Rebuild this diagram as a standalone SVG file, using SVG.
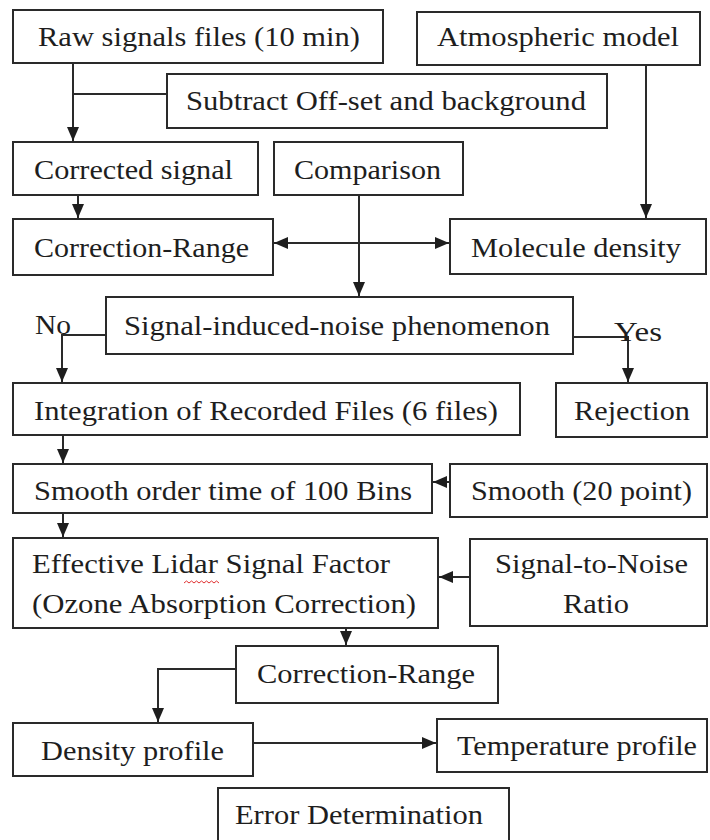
<svg xmlns="http://www.w3.org/2000/svg" width="710" height="840" viewBox="0 0 710 840">
<style>
  .box { fill: #ffffff; stroke: #2a2a2a; stroke-width: 2; }
  text { font-family: "Liberation Serif", "DejaVu Serif", serif; font-size: 28px; fill: #1e1e1e; }
  .ts { text-anchor: start; }
  .c { fill: none; stroke: #2a2a2a; stroke-width: 2; }
  .a { marker-end: url(#ah); }
</style>
<defs>
  <marker id="ah" viewBox="0 0 14 12" refX="14" refY="6" markerWidth="14" markerHeight="12" markerUnits="userSpaceOnUse" orient="auto-start-reverse">
    <path d="M0,0 L14,6 L0,12 z" fill="#1e1e1e"/>
  </marker>
</defs>
<rect width="710" height="840" fill="#ffffff"/>

<g id="connectors">
  <path class="c a" d="M73,63 V141"/>
  <path class="c" d="M167,94 H73"/>
  <path class="c a" d="M646,65 V218"/>
  <path class="c a" d="M78,195 V218"/>
  <path class="c a" d="M274,243 H449" marker-start="url(#ah)"/>
  <path class="c a" d="M359,195 V296"/>
  <path class="c a" d="M105,335 H62 V382"/>
  <path class="c a" d="M574,337 H628 V382"/>
  <path class="c a" d="M63,435 V463"/>
  <path class="c a" d="M450,482 H433"/>
  <path class="c a" d="M63,513 V537"/>
  <path class="c a" d="M470,577 H439"/>
  <path class="c a" d="M346,628 V645"/>
  <path class="c a" d="M236,669 H158 V722"/>
  <path class="c a" d="M253,743 H436"/>
</g>

<g id="raw">
  <rect class="box" x="13" y="10" width="370" height="53"/>
  <text x="38" y="46" textLength="322" lengthAdjust="spacingAndGlyphs">Raw signals files (10 min)</text>
</g>
<g id="atmospheric">
  <rect class="box" x="417" y="12" width="283" height="53"/>
  <text x="437" y="46" textLength="242" lengthAdjust="spacingAndGlyphs">Atmospheric model</text>
</g>
<g id="subtract">
  <rect class="box" x="167" y="74" width="440" height="54"/>
  <text x="186" y="110" textLength="400" lengthAdjust="spacingAndGlyphs">Subtract Off-set and background</text>
</g>
<g id="corrected">
  <rect class="box" x="13" y="142" width="245" height="53"/>
  <text x="34" y="179" textLength="199" lengthAdjust="spacingAndGlyphs">Corrected signal</text>
</g>
<g id="comparison">
  <rect class="box" x="274" y="142" width="189" height="53"/>
  <text x="294" y="179" textLength="147" lengthAdjust="spacingAndGlyphs">Comparison</text>
</g>
<g id="correction-range">
  <rect class="box" x="13" y="219" width="260" height="56"/>
  <text x="34" y="257" textLength="215" lengthAdjust="spacingAndGlyphs">Correction-Range</text>
</g>
<g id="molecule">
  <rect class="box" x="450" y="219" width="256" height="55"/>
  <text x="471" y="257" textLength="210" lengthAdjust="spacingAndGlyphs">Molecule density</text>
</g>
<g id="sin">
  <rect class="box" x="106" y="297" width="467" height="57"/>
  <text x="124" y="335" textLength="426" lengthAdjust="spacingAndGlyphs">Signal-induced-noise phenomenon</text>
</g>
<g id="labels">
  <text x="35" y="334" textLength="36" lengthAdjust="spacingAndGlyphs">No</text>
  <text x="614" y="341" textLength="48" lengthAdjust="spacingAndGlyphs">Yes</text>
</g>
<g id="integration">
  <rect class="box" x="13" y="383" width="507" height="52"/>
  <text x="34" y="420" textLength="464" lengthAdjust="spacingAndGlyphs">Integration of Recorded Files (6 files)</text>
</g>
<g id="rejection">
  <rect class="box" x="556" y="383" width="151" height="54"/>
  <text x="574" y="420" textLength="116" lengthAdjust="spacingAndGlyphs">Rejection</text>
</g>
<g id="smooth-order">
  <rect class="box" x="13" y="464" width="419" height="49"/>
  <text x="34" y="500" textLength="378" lengthAdjust="spacingAndGlyphs">Smooth order time of 100 Bins</text>
</g>
<g id="smooth20">
  <rect class="box" x="450" y="464" width="257" height="53"/>
  <text x="471" y="500" textLength="221" lengthAdjust="spacingAndGlyphs">Smooth (20 point)</text>
</g>
<g id="effective">
  <rect class="box" x="13" y="538" width="425" height="90"/>
  <text x="32" y="573" textLength="358" lengthAdjust="spacingAndGlyphs">Effective Lidar Signal Factor</text>
  <text x="32" y="613" textLength="384" lengthAdjust="spacingAndGlyphs">(Ozone Absorption Correction)</text>
  <path d="M184,583 l2.5,-2 l2.5,2 l2.5,-2 l2.5,2 l2.5,-2 l2.5,2 l2.5,-2 l2.5,2 l2.5,-2 l2.5,2 l2.5,-2 l2.5,2 l2.5,-2 l2.5,2" fill="none" stroke="#e03030" stroke-width="1"/>
</g>
<g id="snr">
  <rect class="box" x="470" y="539" width="237" height="87"/>
  <text x="495" y="573" textLength="193" lengthAdjust="spacingAndGlyphs">Signal-to-Noise</text>
  <text x="563" y="613" textLength="66" lengthAdjust="spacingAndGlyphs">Ratio</text>
</g>
<g id="correction-range-2">
  <rect class="box" x="236" y="646" width="262" height="57"/>
  <text x="257" y="683" textLength="218" lengthAdjust="spacingAndGlyphs">Correction-Range</text>
</g>
<g id="density">
  <rect class="box" x="13" y="723" width="240" height="53"/>
  <text x="41" y="760" textLength="183" lengthAdjust="spacingAndGlyphs">Density profile</text>
</g>
<g id="temperature">
  <rect class="box" x="437" y="719" width="270" height="53"/>
  <text x="457" y="755" textLength="240" lengthAdjust="spacingAndGlyphs">Temperature profile</text>
</g>
<g id="error">
  <rect class="box" x="218" y="788" width="291" height="60"/>
  <text x="235" y="824" textLength="248" lengthAdjust="spacingAndGlyphs">Error Determination</text>
</g>
</svg>
